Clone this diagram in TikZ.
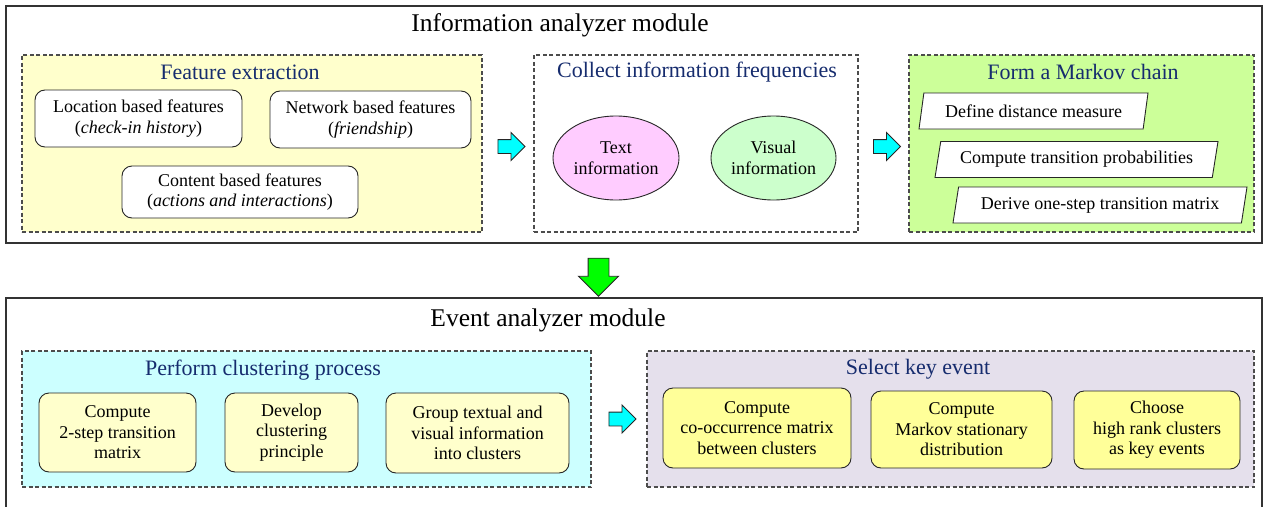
\documentclass[tikz,border=0pt]{standalone}
\usepackage{fontspec}
\setmainfont{Liberation Serif}
\usepackage{tikz}
\usetikzlibrary{shapes,shapes.geometric,shapes.arrows,calc}
\usetikzlibrary{positioning}
\definecolor{clrTitle}{RGB}{22,44,110}
\definecolor{clrFeature}{RGB}{255,255,204}
\definecolor{clrMarkov}{RGB}{204,255,153}
\definecolor{clrCluster}{RGB}{204,255,255}
\definecolor{clrSelect}{RGB}{229,224,236}
\definecolor{clrStepA}{RGB}{255,255,204}
\definecolor{clrStepB}{RGB}{255,255,153}
\definecolor{clrText}{RGB}{255,204,255}
\definecolor{clrVisual}{RGB}{204,255,204}
\definecolor{clrCyan}{RGB}{0,255,255}
\definecolor{clrGreen}{RGB}{0,255,0}
\tikzstyle{module}=[draw=black!80, line width=1.3pt, anchor=center]
\tikzstyle{mod_title}=[font=\fontsize{25.5}{28}\selectfont]
\tikzstyle{group}=[draw=black!70, line width=1.2pt, dash pattern=on 4pt off 2.5pt, anchor=center]
\tikzstyle{grp_title}=[font=\fontsize{22}{24}\selectfont, text=clrTitle]
\tikzstyle{box_style}=[draw=black!85, line width=0.9pt, rounded corners=10pt, anchor=center, align=center, font=\fontsize{18}{20.5}\selectfont]
\tikzstyle{oval}=[draw=black!85, line width=0.9pt, ellipse, align=center, font=\fontsize{18}{20.5}\selectfont]
\tikzstyle{slanted}=[draw=black!85, line width=0.9pt, fill=white, trapezium, trapezium left angle=76, trapezium right angle=104, trapezium stretches body, minimum height=36pt, font=\fontsize{18}{20.5}\selectfont]
\tikzstyle{blockarrow}=[single arrow, draw=black!85, line width=0.9pt, fill=clrCyan, inner sep=6.5pt, single arrow head extend=7pt, minimum width=27pt, minimum height=27pt]

\begin{document}
\begin{tikzpicture}[x=1pt, y=-1pt]
		\path[use as bounding box] (0,0) rectangle (1263,506);
		\clip (0,0) rectangle (1263,506);

		% information analyzer module
		\node[module, minimum width=1256pt, minimum height=237pt] (iam) at (634,124.5) {};
		\node[mod_title] (iamT) at (560,25) {Information analyzer module};

		\node[group, fill=clrFeature, minimum width=460pt, minimum height=177pt] (fe) at (252,143.5) {};
		\node[grp_title] (feT) at (240,72) {Feature extraction};
		\node[box_style, fill=white, minimum width=207pt, minimum height=57pt] (loc) at (138.5,118.5) {Location based features\\(\textit{check-in history})};
		\node[box_style, fill=white, minimum width=201pt, minimum height=57pt] (net) at (370.5,119.5) {Network based features\\(\textit{friendship})};
		\node[box_style, fill=white, minimum width=236pt, minimum height=52pt] (cont) at (240,192) {Content based features\\(\textit{actions and interactions})};

		\node[group, fill=white, minimum width=324pt, minimum height=177pt] (cf) at (696,143.5) {};
		\node[grp_title] (cfT) at (697,72) {Collect information frequencies};
		\node[oval, fill=clrText, minimum width=126pt, minimum height=84pt, inner sep=0pt] (txt) at (616,158) {Text\\information};
		\node[oval, fill=clrVisual, minimum width=125pt, minimum height=84pt, inner sep=0pt] (vis) at (773.5,158) {Visual\\information};

		\node[group, fill=clrMarkov, minimum width=345pt, minimum height=177pt] (mk) at (1081.5,143.5) {};
		\node[grp_title] (mkT) at (1083,72) {Form a Markov chain};
		\node[slanted, minimum width=229pt] (dist) at (1033.5,111) {Define distance measure};
		\node[slanted, minimum width=283pt] (prob) at (1076.5,159.5) {Compute transition probabilities};
		\node[slanted, minimum width=294pt] (mat) at (1100,205) {Derive one-step transition matrix};

		\node[blockarrow] (arrA) at ($(fe.east)!0.5!(cf.west)+(0,3)$) {};
		\node[blockarrow] (arrB) at ($(cf.east)!0.5!(mk.west)+(0,3)$) {};

		% event analyzer module
		\node[module, minimum width=1256pt, minimum height=222pt] (eam) at (634,409) {};
		\node[mod_title] (eamT) at (548,320) {Event analyzer module};

		\node[blockarrow, fill=clrGreen, inner sep=10pt, single arrow head extend=9.5pt, minimum width=39pt, minimum height=38pt, shape border rotate=270] (arrD) at ($(iam.south)!0.5!(eam.north)+(-35.5,1.5)$) {};

		\node[group, fill=clrCluster, minimum width=569pt, minimum height=136pt] (cl) at (306.5,419) {};
		\node[grp_title] (clT) at (263,370) {Perform clustering process};
		\node[box_style, fill=clrStepA, minimum width=157pt, minimum height=79pt] (cA) at (117.5,432.5) {Compute\\2-step transition\\matrix};
		\node[box_style, fill=clrStepA, minimum width=133pt, minimum height=79pt] (cB) at (291.5,432.5) {Develop\\clustering\\principle};
		\node[box_style, fill=clrStepA, minimum width=183pt, minimum height=80pt] (cC) at (477.5,433) {Group textual and\\visual information\\into clusters};

		\node[group, fill=clrSelect, minimum width=607pt, minimum height=136pt] (sk) at (950.5,419) {};
		\node[grp_title] (skT) at (918,369) {Select key event};
		\node[box_style, fill=clrStepB, minimum width=188pt, minimum height=80pt] (sA) at (757,428) {Compute\\co-occurrence matrix\\between clusters};
		\node[box_style, fill=clrStepB, minimum width=181pt, minimum height=77pt] (sB) at (961.5,429.5) {Compute\\Markov stationary\\distribution};
		\node[box_style, fill=clrStepB, minimum width=166pt, minimum height=78pt] (sC) at (1157,430) {Choose\\high rank clusters\\as key events};

		\node[blockarrow] (arrC) at ($(cl.east)!0.5!(sk.west)$) {};

	\end{tikzpicture}
\end{document}
